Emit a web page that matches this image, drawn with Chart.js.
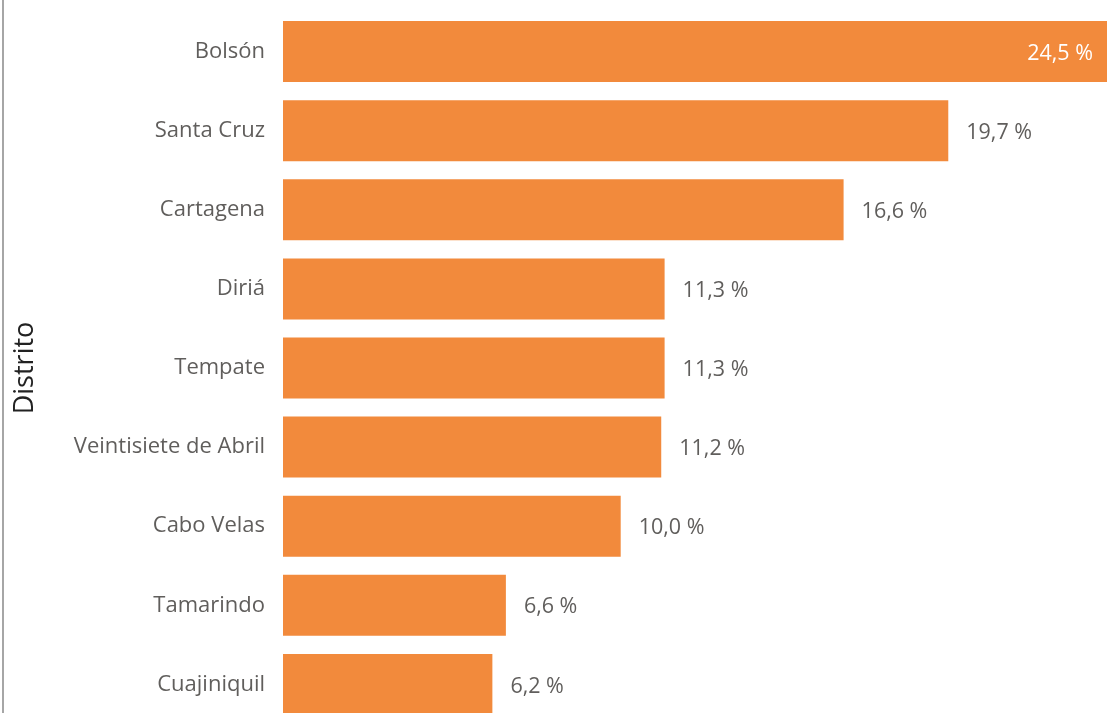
<!DOCTYPE html>
<html>
<head>
<meta charset="utf-8">
<script src="https://cdn.jsdelivr.net/npm/chart.js@4"></script>
<style>
  html, body { margin: 0; padding: 0; background: #fff; overflow: hidden; }
  #wrap { position: relative; width: 1107px; height: 724px; }
  #edge { position: absolute; left: 2px; top: 0; width: 2px; height: 713px; background: #a6a6a6; }
</style>
</head>
<body>
<div id="wrap">
  <canvas id="distritos"></canvas>
  <div id="edge"></div>
</div>
<script>
const distritos = ['Bolsón', 'Santa Cruz', 'Cartagena', 'Diriá', 'Tempate',
  'Veintisiete de Abril', 'Cabo Velas', 'Tamarindo', 'Cuajiniquil'];
const porcentajes = [24.5, 19.7, 16.6, 11.3, 11.3, 11.2, 10.0, 6.6, 6.2];
const ejeMax = 24.4;

(function(){
  const cBar   = '#F28A3C';
  const cLabel = '#605E5C';
  const cTitle = '#222222';
  const fuente = "'Open Sans', 'Noto Sans', sans-serif";

  const fmt = v => v.toFixed(1).replace('.', ',') + ' %';

  // value labels, put inside the bar when there's no room to the right
  const etiquetas = {
    id: 'etiquetas',
    afterDatasetsDraw(chart) {
      const ctx = chart.ctx;
      const area = chart.chartArea;
      const meta = chart.getDatasetMeta(0);
      ctx.save();
      ctx.font = '21.5px ' + fuente;
      ctx.textBaseline = 'middle';
      meta.data.forEach((bar, i) => {
        const txt = fmt(porcentajes[i]);
        const w = ctx.measureText(txt).width;
        if (bar.x + 18 + w > area.right) {
          ctx.fillStyle = '#ffffff';
          ctx.textAlign = 'right';
          ctx.fillText(txt, Math.min(bar.x, area.right) - 14, bar.y + 2);
        } else {
          ctx.fillStyle = cLabel;
          ctx.textAlign = 'left';
          ctx.fillText(txt, bar.x + 18, bar.y + 2);
        }
      });
      ctx.restore();
    }
  };

  new Chart(document.getElementById('distritos'), {
    type: 'bar',
    data: {
      labels: distritos,
      datasets: [{
        data: porcentajes,
        backgroundColor: cBar,
        borderWidth: 0,
        categoryPercentage: 0.771,
        barPercentage: 1
      }]
    },
    options: {
      indexAxis: 'y',
      responsive: true,
      maintainAspectRatio: false,
      animation: false,
      layout: { padding: { top: 12, right: 0, bottom: 0, left: 0 } },
      scales: {
        x: { display: false, min: 0, max: ejeMax },
        y: {
          grid: { display: false, drawTicks: false },
          border: { display: false },
          ticks: { color: cLabel, padding: 18, font: { family: fuente, size: 22 } },
          title: {
            display: true,
            text: 'Distrito',
            color: cTitle,
            padding: { top: 9, bottom: 0 },
            font: { family: fuente, size: 27 }
          },
          afterFit(scale) {
            scale.width = 283;
            scale.paddingTop = 0;
            scale.paddingBottom = 0;
          }
        }
      },
      plugins: {
        legend: { display: false },
        tooltip: { enabled: false }
      }
    },
    plugins: [etiquetas]
  });
})();
</script>
</body>
</html>
